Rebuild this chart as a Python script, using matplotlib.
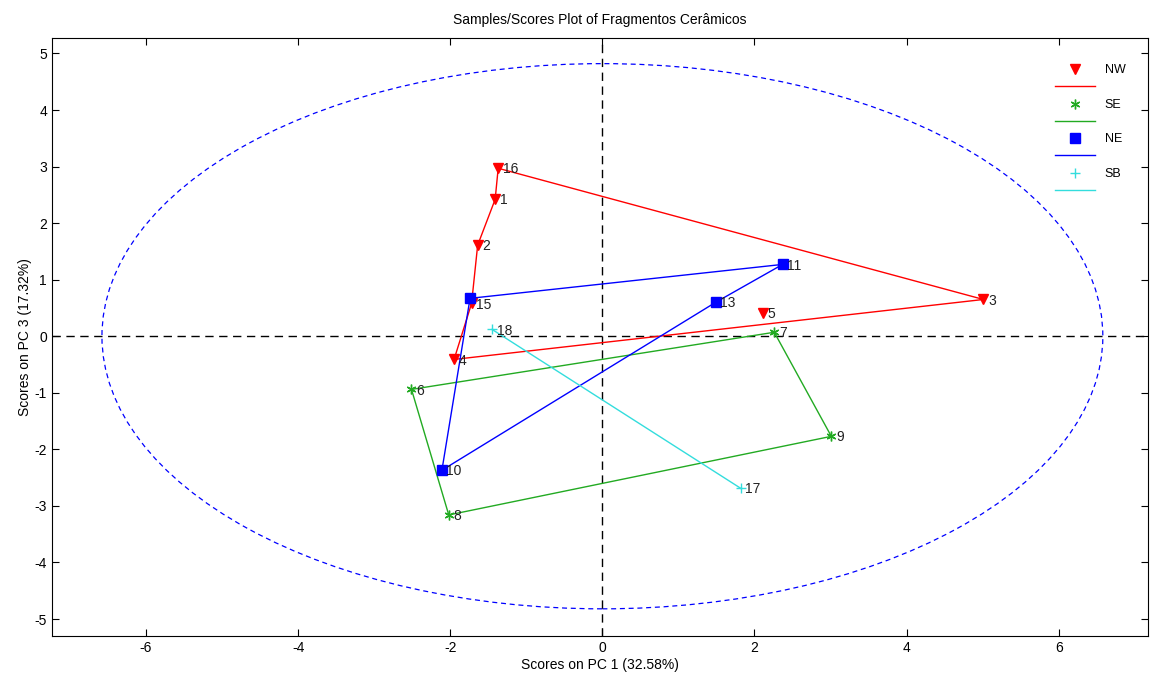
import numpy as np
import matplotlib.pyplot as plt
from matplotlib.patches import Ellipse
from matplotlib.lines import Line2D

plt.rcParams['font.family'] = ['Liberation Sans', 'DejaVu Sans']
plt.rcParams['axes.unicode_minus'] = False

# Scores (PC1, PC3), sample ids, and the order the outline joins them
nw_ids = [16, 1, 2, 15, 4, 3, 5]
nw_pc1 = [-1.37, -1.41, -1.64, -1.72, -1.95, 5.01, 2.11]
nw_pc3 = [2.97, 2.42, 1.61, 0.58, -0.41, 0.65, 0.41]
nw_path = [16, 1, 2, 15, 4, 3, 16]

se_ids = [7, 6, 9, 8]
se_pc1 = [2.26, -2.51, 3.01, -2.02]
se_pc3 = [0.07, -0.94, -1.77, -3.16]
se_path = [6, 7, 9, 8, 6]

ne_ids = [11, 13, 15, 10]
ne_pc1 = [2.37, 1.49, -1.74, -2.11]
ne_pc3 = [1.27, 0.60, 0.67, -2.37]
ne_path = [15, 11, 13, 10, 15]

sb_ids = [18, 17]
sb_pc1 = [-1.45, 1.82]
sb_pc3 = [0.12, -2.69]
sb_path = [18, 17]

# confidence ellipse half-widths
ell_a = 6.58
ell_b = 4.82

star = (6, 2, 0)  # thin asterisk like the original
groups = [
    ('NW', nw_ids, nw_pc1, nw_pc3, nw_path, '#ff0000', 'v', 7),
    ('SE', se_ids, se_pc1, se_pc3, se_path, '#22aa22', star, 7),
    ('NE', ne_ids, ne_pc1, ne_pc3, ne_path, '#0000ff', 's', 6.5),
    ('SB', sb_ids, sb_pc1, sb_pc3, sb_path, '#33dddd', '+', 7),
]

fig = plt.figure(figsize=(11.5, 6.77), dpi=100)
ax = fig.add_axes([0.045, 0.0606, 0.953, 0.883])

ax.axhline(0, color='k', linestyle='--', linewidth=1, dashes=(6, 4))
ax.axvline(0, color='k', linestyle='--', linewidth=1, dashes=(6, 4))
ax.add_patch(Ellipse((0, 0), 2 * ell_a, 2 * ell_b, fill=False, edgecolor='#0000ff',
                     linestyle=(0, (4, 3)), linewidth=0.9))

handles = []
labelled = set()
for name, ids, x, y, path, col, mk, ms in groups:
    pos = {i: (a, b) for i, a, b in zip(ids, x, y)}
    px = [pos[i][0] for i in path]
    py = [pos[i][1] for i in path]
    ax.plot(px, py, color=col, linewidth=1)
    ax.plot(x, y, linestyle='none', marker=mk, color=col, markersize=ms)
    for i, a, b in zip(ids, x, y):
        # sample 15 shows up in two groups; its number is printed once
        if i in labelled:
            continue
        labelled.add(i)
        ax.text(a + 0.06, b - 0.02, str(i), fontsize=10, va='center', ha='left', color='#222222')
    handles.append(Line2D([], [], linestyle='none', marker=mk, color=col, markersize=ms, label=name))
    handles.append(Line2D([], [], color=col, linewidth=1, label=' '))

ax.legend(handles=handles, loc='upper right', frameon=False, fontsize=9,
          handlelength=3.2, labelspacing=0.42, bbox_to_anchor=(0.99, 0.975))

ax.set_xlim(-7.24, 7.17)
ax.set_ylim(-5.3, 5.27)
ax.set_xticks(np.arange(-6, 7, 2))
ax.set_yticks(np.arange(-5, 6, 1))
ax.tick_params(direction='in', top=True, right=True, labelsize=10, length=5)
ax.set_xlabel('Scores on PC 1 (32.58%)', fontsize=10, labelpad=2)
ax.set_ylabel('Scores on PC 3 (17.32%)', fontsize=10, labelpad=2)
ax.set_title('Samples/Scores Plot of Fragmentos Cerâmicos', fontsize=10, pad=10)

fig.savefig('out.png', dpi=100)
